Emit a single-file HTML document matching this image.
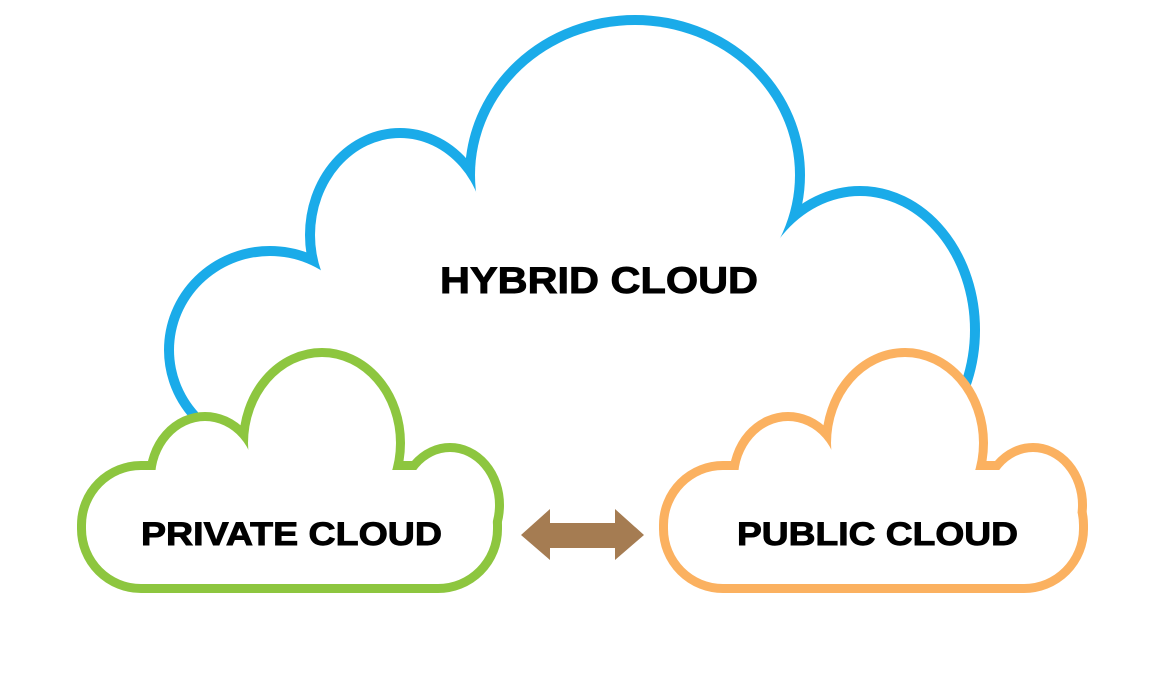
<!DOCTYPE html>
<html><head><meta charset="utf-8"><style>
html,body{margin:0;padding:0;background:#fff;}
svg{display:block;}
text{font-family:"Liberation Sans",Arial,sans-serif;font-weight:bold;fill:#000;stroke:#000;stroke-width:0.9;}
</style></head><body>
<svg width="1170" height="694" viewBox="0 0 1170 694" xmlns="http://www.w3.org/2000/svg">
<rect width="1170" height="694" fill="#fff"/>
<!-- Hybrid cloud -->
<g fill="#fff" stroke="#1aabe9" stroke-width="20">
<ellipse cx="635" cy="175" rx="160" ry="150"/>
<ellipse cx="400" cy="235" rx="85" ry="97"/>
<ellipse cx="270" cy="350" rx="96" ry="94"/>
<ellipse cx="860" cy="330" rx="110" ry="134"/>
</g>
<g fill="#fff">
<ellipse cx="635" cy="175" rx="160" ry="150"/>
<ellipse cx="400" cy="235" rx="85" ry="97"/>
<ellipse cx="270" cy="350" rx="96" ry="94"/>
<ellipse cx="860" cy="330" rx="110" ry="134"/>
<polygon points="400,235 635,175 785,258 860,330 860,470 270,470 270,350"/>
</g>
<text x="440" y="293" font-size="37" textLength="318" lengthAdjust="spacingAndGlyphs">HYBRID CLOUD</text>
<!-- Private cloud -->
<g fill="#fff" stroke="#8dc63f" stroke-width="18">
<rect x="86" y="470" width="407" height="114" rx="55"/>
<ellipse cx="322" cy="443" rx="74" ry="86"/>
<ellipse cx="205" cy="478" rx="50" ry="57"/>
<ellipse cx="450" cy="505" rx="45" ry="53"/>
</g>
<g fill="#fff">
<rect x="86" y="470" width="407" height="114" rx="55"/>
<ellipse cx="322" cy="443" rx="74" ry="86"/>
<ellipse cx="205" cy="478" rx="50" ry="57"/>
<ellipse cx="450" cy="505" rx="45" ry="53"/>
</g>
<text x="141" y="545" font-size="32" textLength="301" lengthAdjust="spacingAndGlyphs">PRIVATE CLOUD</text>
<!-- Public cloud -->
<g fill="#fff" stroke="#fbb160" stroke-width="18">
<rect x="668" y="470" width="411" height="114" rx="55"/>
<ellipse cx="905" cy="443" rx="74" ry="86"/>
<ellipse cx="788" cy="478" rx="50" ry="57"/>
<ellipse cx="1033" cy="505" rx="45" ry="53"/>
</g>
<g fill="#fff">
<rect x="668" y="470" width="411" height="114" rx="55"/>
<ellipse cx="905" cy="443" rx="74" ry="86"/>
<ellipse cx="788" cy="478" rx="50" ry="57"/>
<ellipse cx="1033" cy="505" rx="45" ry="53"/>
</g>
<text x="737" y="545" font-size="32" textLength="281" lengthAdjust="spacingAndGlyphs">PUBLIC CLOUD</text>
<!-- Arrow -->
<polygon fill="#a57c52" points="521,535 550,509 550,523 615,523 615,509 644,535 615,560 615,548 550,548 550,560"/>
</svg>
</body></html>
